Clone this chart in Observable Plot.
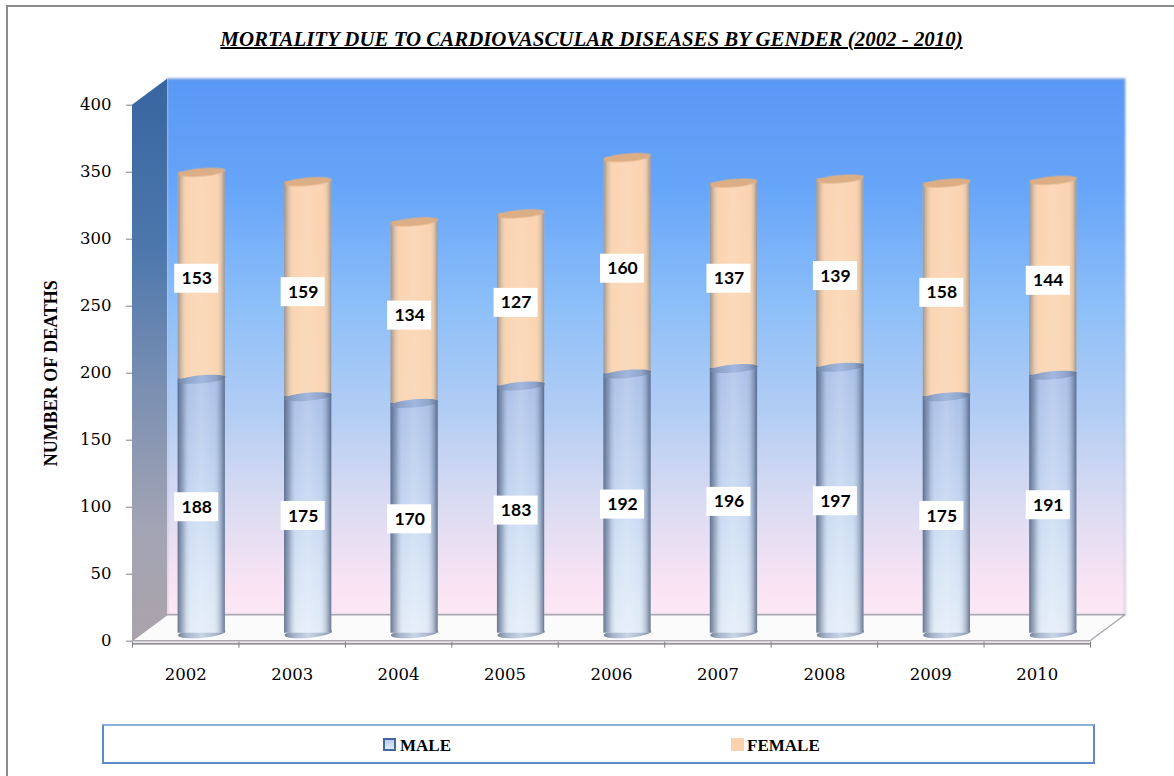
<!DOCTYPE html>
<html>
<head>
<meta charset="utf-8">
<script src="https://cdn.jsdelivr.net/npm/d3@7"></script>
<script src="https://cdn.jsdelivr.net/npm/@observablehq/plot@0.6"></script>
<style>
html,body{margin:0;padding:0;background:#fff;overflow:hidden}
#page{position:relative;width:1174px;height:776px;overflow:hidden}
#edge{position:absolute;left:6px;top:5px;width:1180px;height:800px;border:2px solid #8c8c8c;box-sizing:border-box}
#title{position:absolute;left:0;top:0;width:1174px;height:60px;box-sizing:border-box;padding-top:26px;padding-left:9px;text-align:center;
 font:italic bold 20.9px/26px "Liberation Serif",serif;text-decoration:underline;text-decoration-thickness:2px;color:#000;white-space:nowrap}
#chart{position:absolute;left:0;top:60px}
#legend{position:absolute;left:102px;top:724px;width:993px;height:40px;box-sizing:border-box;border:2px solid #5b8bc8;border-top-color:#8fb2dc;background:#fff;
 font:bold 17px/18px "Liberation Serif",serif;color:#000}
.key{position:absolute;top:11px;display:block;white-space:nowrap}
.swatch{position:absolute;width:13px;height:13px;box-sizing:border-box;top:12px}
</style>
</head>
<body>
<div id="page">
 <div id="edge"></div>
 <div id="title">MORTALITY DUE TO CARDIOVASCULAR DISEASES BY GENDER (2002 - 2010)</div>
 <div id="chart"></div>
 <div id="legend">
  <span class="swatch" style="left:279px;background:linear-gradient(#bccdea,#dfe8f6);border:2px solid #42679f"></span>
  <span class="key" style="left:296px">MALE</span>
  <span class="swatch" style="left:627px;background:#fbd2ae"></span>
  <span class="key" style="left:643px">FEMALE</span>
 </div>
</div>
<script>
const years = [2002, 2003, 2004, 2005, 2006, 2007, 2008, 2009, 2010];
const male = [188, 175, 170, 183, 192, 196, 197, 175, 191];
const female = [153, 159, 134, 127, 160, 137, 139, 158, 144];
const yTicks = [0, 50, 100, 150, 200, 250, 300, 350, 400];
const xBounds = [2001.5, 2002.5, 2003.5, 2004.5, 2005.5, 2006.5, 2007.5, 2008.5, 2009.5, 2010.5];

const maleRows = years.map((year, i) => ({year, low: 0, high: male[i], mid: male[i] / 2, value: male[i]}));
const femaleRows = years.map((year, i) => ({year, low: male[i], high: male[i] + female[i], mid: male[i] + female[i] / 2, value: female[i]}));

// oblique depth of the 3-D box, in data units
const depthX = 0.329, depthY = 19.4;
const barHalf = 0.222;
const x0 = 2001.5, x9 = 2010.5, yMax = 400;

const sideWall = [
  {x: x0, y1: 0, y2: yMax},
  {x: x0 + depthX, y1: depthY, y2: yMax + depthY}
];
const floor = [
  {y: 0, x1: x0, x2: x9},
  {y: depthY, x1: x0 + depthX, x2: x9 + depthX}
];
const backWall = [{x1: x0 + depthX, x2: x9 + depthX, y1: depthY, y2: yMax + depthY}];

// a flat, slightly tilted disc for the cylinder caps
const disc = (ratio) => ({
  draw(ctx, size) {
    const r = Math.sqrt(size / Math.PI), ry = r * ratio, t = -5 * Math.PI / 180;
    for (let i = 0; i < 40; ++i) {
      const a = i / 40 * 2 * Math.PI, px = r * Math.cos(a), py = ry * Math.sin(a);
      const qx = px * Math.cos(t) - py * Math.sin(t), qy = px * Math.sin(t) + py * Math.cos(t);
      i ? ctx.lineTo(qx, qy) : ctx.moveTo(qx, qy);
    }
    ctx.closePath();
  }
});

const barOpts = {dx: 16, dy: -8, imageFilter: "blur(0.7px)"};
const body = (rows, fill, lift) => Plot.rect(rows, {
  x1: d => d.year - barHalf, x2: d => d.year + barHalf, y1: "low", y2: "high", fill, insetTop: -lift, ...barOpts
});
const cap = (rows, y, fill, lift, ratio) => Plot.dot(rows, {
  x: "year", y, r: 23.8, symbol: disc(ratio), fill, stroke: "none", ...barOpts, dy: -8 - lift
});
const labels = rows => [
  Plot.rect(rows, {
    x1: "year", x2: "year", y1: "mid", y2: "mid", fill: "#fff",
    insetLeft: -22, insetRight: -22, insetTop: -14.5, insetBottom: -14.5, dx: 11, dy: -8
  }),
  Plot.text(rows, {
    x: "year", y: "mid", text: d => String(d.value), dx: 11, dy: -8,
    fontFamily: "Lato, 'Open Sans', sans-serif", fontWeight: "bold", fontSize: 17.5, fill: "#000"
  })
];

const chart = Plot.plot({
  width: 1174,
  height: 650,
  marginLeft: 132,
  marginRight: 84,
  marginTop: 44.7,
  marginBottom: 69.3,
  style: {background: "transparent", overflow: "visible"},
  x: {domain: [x0, x9]},
  y: {domain: [0, yMax]},
  marks: [
    Plot.rect(backWall, {x1: "x1", x2: "x2", y1: "y1", y2: "y2", fill: "url(#wall)", stroke: "#7f90b4", strokeOpacity: 0.45, strokeWidth: 1.5, imageFilter: "blur(0.9px)"}),
    Plot.areaX(floor, {y: "y", x1: "x1", x2: "x2", fill: "#fbfbfc", stroke: "#aaa5ae", strokeWidth: 1.4, imageFilter: "blur(0.5px)"}),
    Plot.areaY(sideWall, {x: "x", y1: "y1", y2: "y2", fill: "url(#side)", imageFilter: "blur(0.6px)"}),
    cap(maleRows, "low", "url(#base)", 0, 0.2),
    body(femaleRows, "url(#femaleFill)", 4),
    body(femaleRows, "url(#femaleShade)", 4),
    cap(femaleRows, "high", "#dcae86", 4, 0.17),
    body(maleRows, "url(#maleFill)", 2),
    body(maleRows, "url(#shade)", 2),
    cap(maleRows, "high", "url(#maleTop)", 2, 0.17),
    Plot.ruleY([0], {stroke: "#9a979c", strokeWidth: 2, dy: 2.5}),
    ...labels(maleRows),
    ...labels(femaleRows),
    Plot.axisY(yTicks, {
      tickSize: 6, tickPadding: 15, stroke: "#808080", fill: "#000",
      fontFamily: "'DejaVu Serif', serif", fontSize: 16.5, label: null
    }),
    Plot.axisY([], {
      label: "NUMBER OF DEATHS", labelAnchor: "center", labelArrow: "none", labelOffset: 88,
      fontFamily: "'Liberation Serif', serif", fontWeight: "bold", fontSize: 18, fill: "#000"
    }),
    Plot.axisX(years, {
      tickSize: 0, tickPadding: 27, tickFormat: "d", fill: "#000", label: null,
      fontFamily: "'DejaVu Serif', serif", fontSize: 16.5
    }),
    Plot.axisX(xBounds, {tickSize: 6, tickFormat: () => "", stroke: "#808080", label: null, dy: 1})
  ]
});

const stops = (list) => list.map(([o, c, a]) => `<stop offset="${o}" stop-color="${c}"${a === undefined ? "" : ` stop-opacity="${a}"`}/>`).join("");
const defs = document.createElementNS("http://www.w3.org/2000/svg", "defs");
defs.innerHTML = `
<linearGradient id="wall" x1="0" y1="0" x2="0" y2="1">${stops([[0,"#5a98f6"],[0.2,"#67a5f9"],[0.42,"#8cbff9"],[0.62,"#b2cdf4"],[0.8,"#dcdcf2"],[0.95,"#fae4f4"],[1,"#fce8f5"]])}</linearGradient>
<linearGradient id="side" x1="0" y1="0" x2="0" y2="1">${stops([[0,"#37659f"],[0.3,"#4c77ad"],[0.55,"#7a8fb2"],[0.8,"#a3a4b4"],[1,"#aaa3aa"]])}</linearGradient>
<linearGradient id="maleFill" x1="0" y1="0" x2="0" y2="1">${stops([[0,"#a9bfe8"],[0.35,"#bcd0ef"],[0.75,"#d6e4f6"],[1,"#e2ecf8"]])}</linearGradient>
<linearGradient id="femaleFill" x1="0" y1="0" x2="0" y2="1">${stops([[0,"#fbd3b0"],[1,"#fad6b4"]])}</linearGradient>
<linearGradient id="shade" x1="0" y1="0" x2="1" y2="0">${stops([[0,"#40506e",0.75],[0.12,"#50607e",0.38],[0.28,"#ffffff",0.06],[0.5,"#ffffff",0.2],[0.74,"#ffffff",0.05],[0.9,"#50607e",0.3],[1,"#40506e",0.75]])}</linearGradient>
<linearGradient id="femaleShade" x1="0" y1="0" x2="1" y2="0">${stops([[0,"#6a7a92",0.7],[0.1,"#8a8478",0.22],[0.22,"#ffffff",0.03],[0.5,"#ffffff",0.12],[0.8,"#ffffff",0.02],[0.92,"#8a8478",0.2],[1,"#6a7a92",0.7]])}</linearGradient>
<linearGradient id="base" x1="0" y1="0" x2="1" y2="0">${stops([[0,"#76849c"],[0.2,"#a8b6cc"],[0.5,"#c9d6e8"],[0.8,"#a8b6cc"],[1,"#76849c"]])}</linearGradient>
<linearGradient id="maleTop" x1="0" y1="0" x2="1" y2="0">${stops([[0,"#6f83a6"],[0.2,"#8fa4c8"],[0.5,"#a3b8e0"],[0.8,"#8fa4c8"],[1,"#5f7396"]])}</linearGradient>`;
chart.insertBefore(defs, chart.firstChild);
document.getElementById("chart").appendChild(chart);
</script>
</body>
</html>
